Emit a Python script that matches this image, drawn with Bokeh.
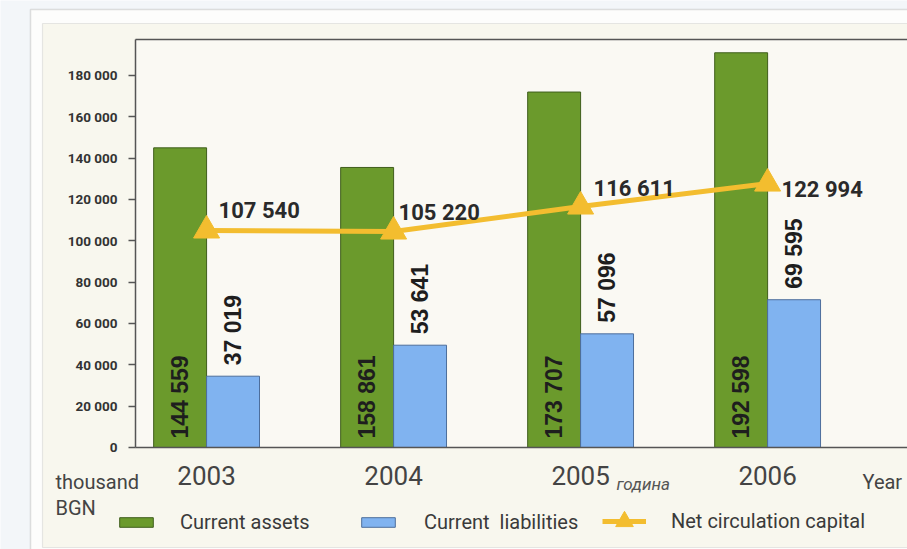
import math
from bokeh.plotting import figure
from bokeh.models import (ColumnDataSource, FixedTicker, LinearAxis, Range1d, Label,
                          Legend, LegendItem, BoxAnnotation)
from bokeh.transform import dodge
from bokeh.core.properties import value
from bokeh.embed import file_html
from bokeh.resources import INLINE

# ---- data ----
years = [2003, 2004, 2005, 2006]
year_labels = ["2003", "2004", "2005", "2006"]
current_assets = [145000, 135500, 172000, 191000]          # bar heights as drawn
current_assets_labels = ["144 559", "158 861", "173 707", "192 598"]
current_liabilities = [34500, 49500, 55000, 71500]         # bar heights as drawn
current_liabilities_labels = ["37 019", "53 641", "57 096", "69 595"]
net_capital = [105000, 104500, 116600, 127700]             # line points as drawn
net_capital_labels = ["107 540", "105 220", "116 611", "122 994"]
y_ticks = [0, 20000, 40000, 60000, 80000, 100000, 120000, 140000, 160000, 180000]
y_tick_labels = ["0", "20 000", "40 000", "60 000", "80 000", "100 000",
                 "120 000", "140 000", "160 000", "180 000"]

# ---- styling / layout ----
FONT = "Roboto"
GREEN = "#6b9a2c"
GREEN_EDGE = "#3f5e1c"
BLUE = "#80b3f0"
BLUE_EDGE = "#4d6e9c"
YELLOW = "#f3bd2f"
CREAM = "#f8f7ee"
PLOT_CREAM = "#faf9f3"
AXIS = "#555555"
TEXT = "#3a3a3a"
net_label_dx = [12, 5, 13, 14]
net_label_dy = [-20, -19, -18, 6]
BAR_W = 0.283
# plot-area extents in data units (the visible axes box)
PLOT_X0 = 2002.62
PLOT_Y1 = 197400
X_RANGE = (2001.898, 2006.748)
Y_RANGE = (-49355, 216290)

src = ColumnDataSource(dict(
    year=years,
    assets=current_assets, assets_label=current_assets_labels,
    liab=current_liabilities, liab_label=current_liabilities_labels,
    net=net_capital, net_label=net_capital_labels,
    dx=net_label_dx, dy=net_label_dy,
))

p = figure(width=907, height=549,
           x_range=Range1d(*X_RANGE), y_range=Range1d(*Y_RANGE),
           output_backend="svg", toolbar_location=None, min_border=0,
           background_fill_color="#f3f6f9", border_fill_color="#f3f6f9",
           outline_line_color=None)

# page frames (outer white frame, inner cream panel, plot area)
p.add_layout(BoxAnnotation(left=30, right=3000, top=540, bottom=-100,
                           left_units="screen", right_units="screen",
                           top_units="screen", bottom_units="screen",
                           fill_color="#fdfdfc", fill_alpha=1,
                           line_color="#9a9a9a", line_width=1.5, level="underlay"))
p.add_layout(BoxAnnotation(left=42, right=3000, top=526, bottom=2,
                           left_units="screen", right_units="screen",
                           top_units="screen", bottom_units="screen",
                           fill_color=CREAM, fill_alpha=1,
                           line_color="#b5b5b5", line_width=1.2, level="underlay"))
p.add_layout(BoxAnnotation(left=PLOT_X0, bottom=0, top=PLOT_Y1,
                           fill_color=PLOT_CREAM, fill_alpha=1,
                           line_color=None, level="underlay"))

p.xgrid.grid_line_color = None
p.ygrid.grid_line_color = None

# x axis (drawn at y = 0)
p.xaxis.fixed_location = 0
p.xaxis.bounds = (PLOT_X0, X_RANGE[1])
p.xaxis.ticker = FixedTicker(ticks=years)
p.xaxis.major_label_overrides = {y: l for y, l in zip(years, year_labels)}
p.xaxis.major_tick_line_color = None
p.xaxis.minor_tick_line_color = None
p.xaxis.axis_line_color = AXIS
p.xaxis.axis_line_width = 1.5
p.xaxis.major_label_text_font = FONT
p.xaxis.major_label_text_font_size = "26px"
p.xaxis.major_label_text_color = "#444444"
p.xaxis.major_label_standoff = 13

# y axis (drawn at the plot-area left edge)
p.yaxis.fixed_location = PLOT_X0
p.yaxis.bounds = (0, PLOT_Y1)
p.yaxis.ticker = FixedTicker(ticks=y_ticks)
p.yaxis.major_label_overrides = {t: l for t, l in zip(y_ticks, y_tick_labels)}
p.yaxis.major_tick_out = 7
p.yaxis.major_tick_in = 0
p.yaxis.minor_tick_line_color = None
p.yaxis.axis_line_color = AXIS
p.yaxis.axis_line_width = 1.5
p.yaxis.major_tick_line_color = AXIS
p.yaxis.major_tick_line_width = 1.5
p.yaxis.major_label_text_font = FONT
p.yaxis.major_label_text_font_style = "bold"
p.yaxis.major_label_text_font_size = "13.5px"
p.yaxis.major_label_text_color = "#333333"
p.yaxis.major_label_standoff = 11

# top border line of the plot area
top_axis = LinearAxis(fixed_location=PLOT_Y1, bounds=(PLOT_X0, X_RANGE[1]),
                      ticker=FixedTicker(ticks=[]), axis_line_color=AXIS, axis_line_width=1.5,
                      major_tick_line_color=None, minor_tick_line_color=None,
                      major_label_text_font_size="0px")
p.add_layout(top_axis, "above")

# bars
r_assets = p.vbar(x=dodge("year", -BAR_W / 2, range=p.x_range), top="assets", width=BAR_W,
                  source=src, fill_color=GREEN, line_color=GREEN_EDGE, line_width=1)
r_liab = p.vbar(x=dodge("year", BAR_W / 2, range=p.x_range), top="liab", width=BAR_W,
                source=src, fill_color=BLUE, line_color=BLUE_EDGE, line_width=1)

# bar value labels (rotated)
p.text(x=dodge("year", -BAR_W / 2, range=p.x_range), y=0, text="assets_label", source=src,
       angle=math.pi / 2, text_align="left", text_baseline="middle", y_offset=-9,
       text_font=value("Liberation Sans"), text_font_style="bold", text_font_size="23px",
       text_color="#1e1e1e")
p.text(x=dodge("year", BAR_W / 2, range=p.x_range), y="liab", text="liab_label", source=src,
       angle=math.pi / 2, text_align="left", text_baseline="middle", y_offset=-11,
       text_font=value("Liberation Sans"), text_font_style="bold", text_font_size="23px",
       text_color="#1e1e1e")

# net circulation capital line
r_line = p.line(x="year", y="net", source=src, line_color=YELLOW, line_width=5)
r_tri = p.scatter(x="year", y="net", source=src, marker="triangle", size=26,
                  fill_color=YELLOW, line_color=YELLOW)
p.text(x="year", y="net", text="net_label", source=src, x_offset="dx", y_offset="dy",
       text_align="left", text_baseline="alphabetic",
       text_font=value(FONT), text_font_style="bold", text_font_size="22px",
       text_color="#2a2a2a")

# extra texts (screen units from canvas bottom-left)
def add_label(text, x, y, size, style="normal", color="#444444"):
    p.add_layout(Label(x=x, y=y, x_units="screen", y_units="screen", text=text,
                       text_font=FONT, text_font_size=size, text_font_style=style,
                       text_color=color, text_align="left", text_baseline="alphabetic"))

add_label("thousand", 55, 68, "20px")
add_label("BGN", 55, 42, "20px")
add_label("Year", 862, 68, "20px")
add_label("година", 616, 66, "17px", style="italic", color="#555555")

# legends
def add_legend(label, renderers, x, y, gw, gh, standoff):
    leg = Legend(items=[LegendItem(label=label, renderers=renderers)],
                 location=(x, y), orientation="horizontal",
                 glyph_width=gw, glyph_height=gh, label_standoff=standoff,
                 padding=0, margin=0, spacing=0,
                 background_fill_alpha=0, border_line_color=None,
                 label_text_font=FONT, label_text_font_size="20px",
                 label_text_color=TEXT)
    p.add_layout(leg, "center")

add_legend("Current assets", [r_assets], 115, 15, 42, 12, 23)
add_legend("Current  liabilities", [r_liab], 357, 15, 42, 12, 25)
add_legend("Net circulation capital", [r_line, r_tri], 602, 3, 44, 50, 25)

open("out.html", "w").write(file_html(p, INLINE))
